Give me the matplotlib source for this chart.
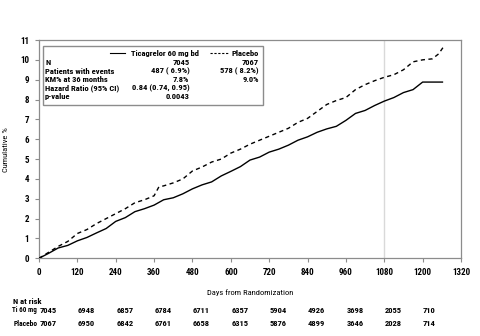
import matplotlib
matplotlib.use("Agg")
import matplotlib.pyplot as plt
from matplotlib import font_manager
from matplotlib.patches import Rectangle
from matplotlib.lines import Line2D

# narrow sans for the whole figure, first one that is installed
names = {f.name for f in font_manager.fontManager.ttflist}
wanted = ['Liberation Sans Narrow', 'Arial Narrow', 'Arimo Narrow', 'Roboto Condensed',
          'Open Sans Condensed', 'Asap Condensed', 'Barlow Condensed']
narrow = [n for n in wanted if n in names]
plt.rcParams['font.family'] = narrow[:1] + ['Liberation Sans', 'DejaVu Sans']
plt.rcParams['font.weight'] = 'bold'
FS = 6.1 if narrow else 5.5
plt.rcParams['font.size'] = FS

# cumulative incidence (%), read every 30 days
days_tica = [0, 30, 60, 90, 120, 150, 180, 210, 240, 270, 300, 330, 360, 390, 420,
             450, 480, 510, 540, 570, 600, 630, 660, 690, 720, 750, 780, 810, 840,
             870, 900, 930, 960, 990, 1020, 1050, 1080, 1110, 1140, 1170, 1200,
             1230, 1262]
km_tica = [0, 0.25, 0.52, 0.65, 0.88, 1.05, 1.28, 1.50, 1.86, 2.05, 2.35, 2.50,
           2.68, 2.95, 3.05, 3.25, 3.50, 3.70, 3.85, 4.15, 4.38, 4.62, 4.95, 5.10,
           5.35, 5.50, 5.70, 5.95, 6.12, 6.35, 6.52, 6.65, 6.95, 7.30, 7.45, 7.70,
           7.92, 8.10, 8.35, 8.50, 8.88, 8.88, 8.88]

days_plac = [0, 30, 60, 90, 120, 150, 180, 210, 240, 270, 300, 330, 360, 375, 390,
             420, 450, 480, 510, 540, 570, 600, 630, 660, 690, 720, 750, 780, 810,
             840, 870, 900, 930, 960, 990, 1020, 1050, 1080, 1110, 1140, 1170,
             1200, 1230, 1250, 1265]
km_plac = [0, 0.30, 0.60, 0.85, 1.25, 1.45, 1.75, 2.00, 2.25, 2.50, 2.80, 2.95,
           3.15, 3.60, 3.65, 3.80, 4.00, 4.40, 4.60, 4.85, 5.00, 5.30, 5.50, 5.75,
           5.95, 6.15, 6.35, 6.55, 6.85, 7.05, 7.40, 7.75, 7.95, 8.10, 8.50, 8.75,
           8.95, 9.12, 9.25, 9.50, 9.90, 10.00, 10.05, 10.30, 10.65]

risk_days = [0, 120, 240, 360, 480, 600, 720, 840, 960, 1080, 1200]
risk_tica = [7045, 6948, 6857, 6784, 6711, 6357, 5904, 4926, 3698, 2055, 710]
risk_plac = [7067, 6950, 6842, 6761, 6658, 6315, 5876, 4899, 3646, 2028, 714]

table_rows = ['N', 'Patients with events', 'KM% at 36 months', 'Hazard Ratio (95% CI)', 'p-value']
table_tica = ['7045', '487 ( 6.9%)', '7.8%', '0.84 (0.74, 0.95)', '0.0043']
table_plac = ['7067', '578 ( 8.2%)', '9.0%', '', '']

W, H = 481, 336
fig = plt.figure(figsize=(W / 100, H / 100), dpi=100)
ax = fig.add_axes([39 / W, 1 - 258.3 / H, 422 / W, 218.3 / H])

ax.axvline(1080, color='#d9d9d9', lw=1, zorder=1)
ax.plot(days_tica, km_tica, color='black', lw=1, zorder=3)
ax.plot(days_plac, km_plac, color='black', lw=1, dashes=(3, 2.5), zorder=3)

ax.set_xlim(0, 1320)
ax.set_ylim(0, 11)
ax.set_xticks(range(0, 1321, 120))
ax.set_yticks(range(0, 12))
for s in ax.spines.values():
    s.set_color('#8c8c8c')
    s.set_linewidth(0.9)
ax.tick_params(direction='out', length=3, width=0.8, color='#8c8c8c', pad=4,
               labelsize=FS + 0.4)
ax.set_ylabel('Cumulative %', labelpad=8)
ax.set_xlabel('Days from Randomization', labelpad=9)


def px(x, y):
    return x / W, 1 - y / H


# summary box inside the plot
box = Rectangle(px(42.7, 105), 220 / W, 59.3 / H, transform=fig.transFigure,
                fill=True, facecolor='white', edgecolor='#8c8c8c', lw=1, zorder=4)
fig.patches.append(box)
fig.lines.append(Line2D([110 / W, 125 / W], [1 - 53.3 / H] * 2, color='black', lw=0.8,
                        transform=fig.transFigure, zorder=5))
fig.lines.append(Line2D([210 / W, 228 / W], [1 - 53.3 / H] * 2, color='black', lw=0.8,
                        dashes=(2, 1.5), transform=fig.transFigure, zorder=5))
fig.text(*px(131, 53.3), 'Ticagrelor 60 mg bd', va='center', ha='left', zorder=5)
fig.text(*px(232, 53.3), 'Placebo', va='center', ha='left', zorder=5)
row_y = [62.5, 71, 79.5, 88, 96.5]
for y, lab, a, b in zip(row_y, table_rows, table_tica, table_plac):
    fig.text(*px(45, y), lab, va='center', ha='left', zorder=5)
    fig.text(*px(189.5, y), a, va='center', ha='right', zorder=5)
    if b:
        fig.text(*px(259, y), b, va='center', ha='right', zorder=5)

# number at risk table
fig.text(*px(13, 301), 'N at risk', va='center', ha='left')
fig.text(*px(12, 310.5), 'Ti 60 mg', va='center', ha='left', fontsize=FS * 0.82)
fig.text(*px(14, 323.5), 'Placebo', va='center', ha='left', fontsize=FS * 0.88)
for d, a, b in zip(risk_days, risk_tica, risk_plac):
    xf = (39.5 + d / 1320 * 422) / W
    fig.text(xf, 1 - 310.5 / H, str(a), va='center', ha='left')
    fig.text(xf, 1 - 323.5 / H, str(b), va='center', ha='left')

fig.savefig('out.png', dpi=100)
